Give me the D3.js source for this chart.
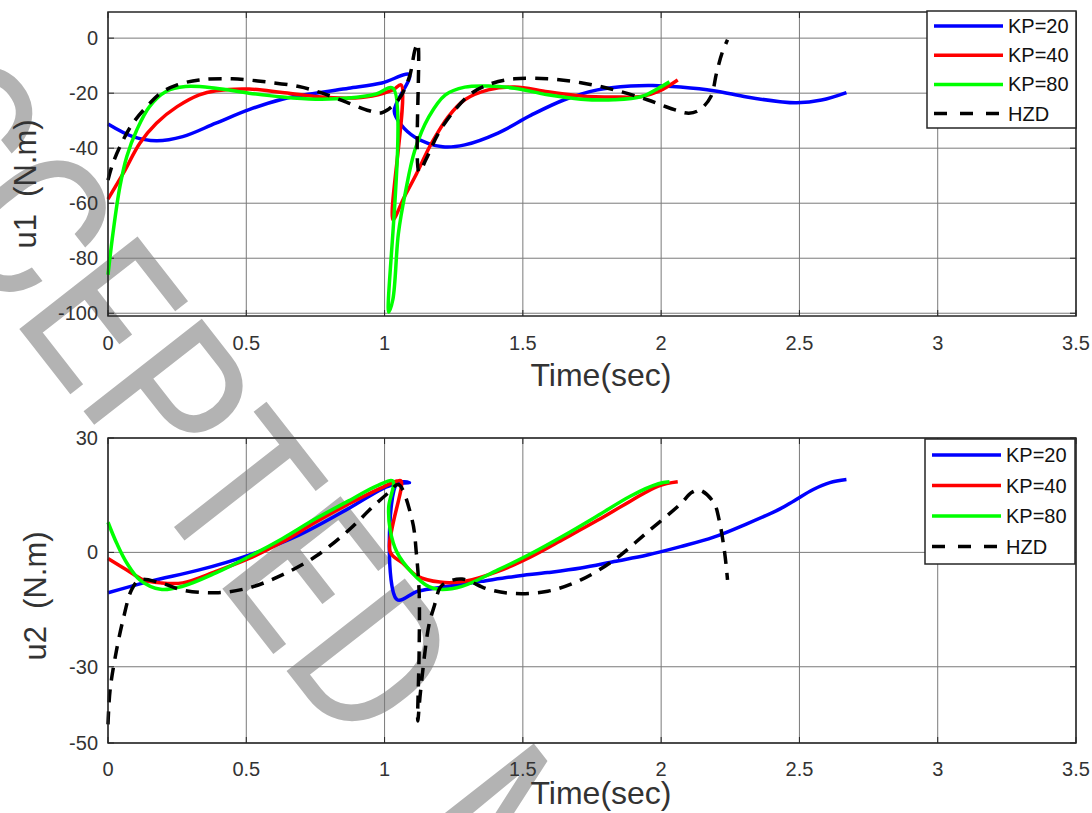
<!DOCTYPE html>
<html>
<head>
<meta charset="utf-8">
<script src="https://cdn.jsdelivr.net/npm/d3@7"></script>
<style>
	body { margin: 0; background: #fff; }
	svg { display: block; }
</style>
</head>
<body>
<svg id="chart" width="1092" height="813"></svg>
<script>
// tick labels
var timeTicks = [0, 0.5, 1, 1.5, 2, 2.5, 3, 3.5];
var u1Ticks = [0, -20, -40, -60, -80, -100];
var u2Ticks = [30, 0, -30, -50];
var legendNames = ['KP=20', 'KP=40', 'KP=80', 'HZD'];

// u1 torque, [time, value]
var u1Kp20 = [[0,-31.2],[0.09,-35.8],[0.175,-37.3],[0.27,-35.8],[0.39,-30.9],[0.51,-26],[0.63,-22.2],[0.75,-20],[0.87,-18.2],[0.99,-16.3],[1.09,-13.3],
	[1.035,-26.5],[1.06,-31.5],[1.11,-36],[1.21,-39.5],[1.29,-38.8],[1.41,-34.5],[1.53,-28],[1.65,-22.4],[1.77,-18.8],[1.89,-17.4],[1.97,-17.2],
	[2.07,-17.8],[2.19,-19.1],[2.31,-21.4],[2.43,-23.1],[2.49,-23.5],[2.58,-22.5],[2.67,-19.8]];
var u1Kp40 = [[0,-58.5],[0.055,-49.2],[0.115,-38.2],[0.175,-30.9],[0.25,-24.9],[0.33,-20.6],[0.39,-19.1],[0.51,-18.5],[0.63,-19.8],[0.75,-21.2],
	[0.87,-21.8],[0.955,-21],[1.03,-18.8],[1.06,-17],[1.03,-66],[1.07,-58],[1.11,-50.4],[1.17,-38.2],[1.23,-28.6],[1.29,-22.4],[1.375,-18.8],
	[1.47,-17.8],[1.59,-19.5],[1.71,-21],[1.83,-21.4],[1.93,-21.2],[1.99,-19.4],[2.06,-15.2]];
var u1Kp80 = [[0,-86],[0.018,-70.9],[0.043,-54],[0.068,-43],[0.104,-33.4],[0.15,-24.9],[0.21,-19.4],[0.28,-17.6],[0.39,-18.2],[0.51,-20],
	[0.63,-21.4],[0.75,-22.2],[0.87,-21.8],[0.97,-20.3],[1.03,-18.2],[1.015,-99.6],[1.03,-95],[1.05,-71],[1.075,-56.2],[1.11,-40.6],[1.16,-28.6],
	[1.22,-20.6],[1.29,-17.8],[1.375,-17.4],[1.47,-18.2],[1.59,-20.6],[1.71,-22.2],[1.83,-22.4],[1.93,-21.2],[1.99,-18.2],[2.03,-15.9]];
var u1Hzd = [[0,-51.6],[0.018,-45.4],[0.055,-37],[0.09,-30.9],[0.14,-24.9],[0.19,-20],[0.25,-17],[0.33,-15.2],[0.45,-14.8],[0.57,-15.9],
	[0.69,-17.6],[0.775,-20],[0.87,-23.6],[0.945,-26.4],[0.99,-27.1],[1.05,-22.4],[1.09,-14],[1.11,-4.2],[1.12,-2],[1.125,-48.6],[1.15,-44],
	[1.195,-34.5],[1.255,-26],[1.315,-20],[1.39,-16.4],[1.47,-14.8],[1.59,-14.8],[1.71,-16.2],[1.83,-18.8],[1.95,-22.4],[2.03,-25.4],[2.1,-27.3],
	[2.14,-26],[2.18,-21.2],[2.2,-12.8],[2.22,-5.5],[2.24,-0.6]];

// u2 torque, [time, value]
var u2Kp20 = [[0,-10.6],[0.15,-7.6],[0.33,-4.6],[0.51,-0.7],[0.69,4.5],[0.87,11.5],[0.99,16.6],[1.04,18],[1.09,18.3],[1.045,18.1],[1.045,-12.4],
	[1.12,-10.2],[1.23,-8.9],[1.35,-7.6],[1.47,-6.3],[1.59,-5.3],[1.71,-4.1],[1.83,-2.4],[1.95,-0.7],[2.07,1.5],[2.19,4],[2.31,7.5],[2.43,11.4],
	[2.48,13.5],[2.55,16.5],[2.61,18.3],[2.67,19.1]];
var u2Kp40 = [[0,-1.6],[0.068,-4.6],[0.127,-7.2],[0.19,-8],[0.27,-8],[0.39,-5],[0.51,-1.6],[0.63,2.7],[0.75,7.9],[0.87,12.7],[0.99,17],
	[1.045,18.7],[1.06,18.7],[1.02,0.2],[1.065,-2.8],[1.12,-6.3],[1.2,-7.8],[1.29,-7.6],[1.41,-5],[1.53,-1.1],[1.65,3.6],[1.77,8.4],[1.89,13.5],
	[1.99,17.4],[2.06,18.5]];
var u2Kp80 = [[0,7.9],[0.032,2.3],[0.068,-2.8],[0.115,-7.2],[0.19,-9.7],[0.27,-8.9],[0.39,-5.4],[0.51,-1.1],[0.63,3.6],[0.75,8.8],[0.87,13.5],
	[0.97,17.4],[1.03,18.7],[1.015,12],[1.02,6],[1.045,0],[1.1,-5.4],[1.16,-9],[1.2,-9.7],[1.28,-8.9],[1.41,-4.6],[1.53,-0.3],[1.65,4.5],
	[1.77,9.6],[1.89,14.8],[1.99,18],[2.03,18.5]];
var u2Hzd = [[0,-45.1],[0.007,-36.5],[0.025,-27.9],[0.055,-17.5],[0.086,-9.7],[0.115,-7.2],[0.19,-8],[0.27,-9.9],[0.39,-10.6],[0.51,-9.3],
	[0.63,-5.9],[0.75,-1.1],[0.87,5.8],[0.955,11.8],[1.015,15.7],[1.05,17.8],[1.1,8.4],[1.115,-0.3],[1.125,-10.6],[1.125,-26],[1.12,-44.2],
	[1.13,-36.5],[1.16,-19.2],[1.18,-14],[1.2,-9.3],[1.22,-8],[1.28,-7],[1.375,-9.7],[1.47,-10.8],[1.59,-10.2],[1.71,-7.2],[1.83,-2],[1.95,5.3],
	[2.07,12.7],[2.11,15.7],[2.14,16.3],[2.19,13.1],[2.21,8.4],[2.23,-0.3],[2.24,-7.2]];

var colors = ['#0000ff', '#ff0000', '#00ff00', '#000000'];
var font = 'Arial, "Liberation Sans", sans-serif';

var svg = d3.select('#chart');

// watermark, drawn first so it sits under the plot
var wm = svg.append('text')
	.attr('font-family', 'Roboto, "Open Sans", sans-serif')
	.attr('font-size', 211)
	.attr('fill', '#b3b3b3');
wm.append('tspan').text('ACCEPTED');
wm.append('tspan').attr('dx', 50).text(' MANUSCRIPT');
// put the first E (index 3) on the origin of the rotated frame
var eOffset = wm.node().getSubStringLength(0, 3);
wm.attr('x', -eOffset)
	.attr('transform', 'translate(10,317) rotate(52) scale(0.87,1)');

var x = d3.scaleLinear().domain([0, 3.5]).range([108, 1076]);

var panels = [
	{ y: d3.scaleLinear().domain([-101, 9.5]).range([316, 12]), ticks: u1Ticks, label: 'u1  (N.m)', labelX: 36, labelY: 184,
	  series: [u1Kp20, u1Kp40, u1Kp80, u1Hzd], tickY: 350, titleY: 386, legend: { x: 927, y: 11, w: 149, h: 117, row: 29.2, first: 26 } },
	{ y: d3.scaleLinear().domain([-50, 30]).range([743, 438]), ticks: u2Ticks, label: 'u2  (N.m)', labelX: 46, labelY: 596,
	  series: [u2Kp20, u2Kp40, u2Kp80, u2Hzd], tickY: 776, titleY: 804, legend: { x: 925, y: 439, w: 150, h: 125, row: 30.5, first: 455 } }
];

panels.forEach(function(p) {
	var y = p.y;
	var top = y.range()[1], bottom = y.range()[0];
	var g = svg.append('g');

	// grid
	g.append('g').selectAll('line.gx')
		.data(timeTicks).enter().append('line')
		.attr('x1', x).attr('x2', x)
		.attr('y1', top).attr('y2', bottom)
		.style('stroke', '#7a7a7a').style('stroke-width', 1);
	g.append('g').selectAll('line.gy')
		.data(p.ticks).enter().append('line')
		.attr('x1', 108).attr('x2', 1076)
		.attr('y1', y).attr('y2', y)
		.style('stroke', '#7a7a7a').style('stroke-width', 1);

	// small inward ticks on all four sides
	var tk = g.append('g').style('stroke', '#262626').style('stroke-width', 1);
	timeTicks.forEach(function(t) {
		tk.append('line').attr('x1', x(t)).attr('x2', x(t)).attr('y1', bottom).attr('y2', bottom - 6);
		tk.append('line').attr('x1', x(t)).attr('x2', x(t)).attr('y1', top).attr('y2', top + 6);
	});
	p.ticks.forEach(function(v) {
		tk.append('line').attr('x1', 108).attr('x2', 114).attr('y1', y(v)).attr('y2', y(v));
		tk.append('line').attr('x1', 1076).attr('x2', 1070).attr('y1', y(v)).attr('y2', y(v));
	});

	// curves
	var line = d3.line()
		.x(function(d) { return x(d[0]); })
		.y(function(d) { return y(d[1]); })
		.curve(d3.curveCatmullRom.alpha(0.5));
	g.append('g').selectAll('path')
		.data(p.series).enter().append('path')
		.attr('d', line)
		.style('fill', 'none')
		.style('stroke', function(d, i) { return colors[i]; })
		.style('stroke-width', 3.5)
		.style('stroke-linejoin', 'round')
		.style('stroke-dasharray', function(d, i) { return i == 3 ? '13,9' : null; });

	// box
	g.append('rect')
		.attr('x', 108).attr('y', top)
		.attr('width', 1076 - 108).attr('height', bottom - top)
		.style('fill', 'none').style('stroke', '#262626').style('stroke-width', 1.5);

	// tick labels
	g.append('g').selectAll('text')
		.data(timeTicks).enter().append('text')
		.attr('x', x).attr('y', p.tickY)
		.attr('text-anchor', 'middle')
		.style('font-family', font)
		.style('font-size', '20px').style('fill', '#333')
		.text(function(d) { return d; });
	g.append('g').selectAll('text')
		.data(p.ticks).enter().append('text')
		.attr('x', 98).attr('y', function(d) { return y(d) + 7; })
		.attr('text-anchor', 'end')
		.style('font-family', font)
		.style('font-size', '20px').style('fill', '#333')
		.text(function(d) { return d; });

	// axis titles
	g.append('text')
		.attr('x', 601).attr('y', p.titleY)
		.attr('text-anchor', 'middle')
		.style('font-family', font)
		.style('font-size', '32px').style('fill', '#333')
		.text('Time(sec)');
	g.append('text')
		.attr('transform', 'translate(' + p.labelX + ',' + p.labelY + ') rotate(-90)')
		.attr('text-anchor', 'middle')
		.style('font-family', font)
		.style('font-size', '31px').style('fill', '#333')
		.style('white-space', 'pre')
		.text(p.label);

	// legend
	var L = p.legend;
	var lg = g.append('g');
	lg.append('rect')
		.attr('x', L.x).attr('y', L.y).attr('width', L.w).attr('height', L.h)
		.style('fill', '#fff').style('stroke', '#262626').style('stroke-width', 1.5);
	var rows = lg.selectAll('g.row')
		.data(legendNames).enter().append('g')
		.attr('transform', function(d, i) { return 'translate(0,' + (L.first + i * L.row) + ')'; });
	rows.append('line')
		.attr('x1', L.x + 7).attr('x2', L.x + 76)
		.style('stroke', function(d, i) { return colors[i]; })
		.style('stroke-width', 3.5)
		.style('stroke-dasharray', function(d, i) { return i == 3 ? '13,13' : null; });
	rows.append('text')
		.attr('x', L.x + 81).attr('y', 7)
		.style('font-family', font)
		.style('font-size', '20px').style('fill', '#111')
		.text(function(d) { return d; });
});
</script>
</body>
</html>
